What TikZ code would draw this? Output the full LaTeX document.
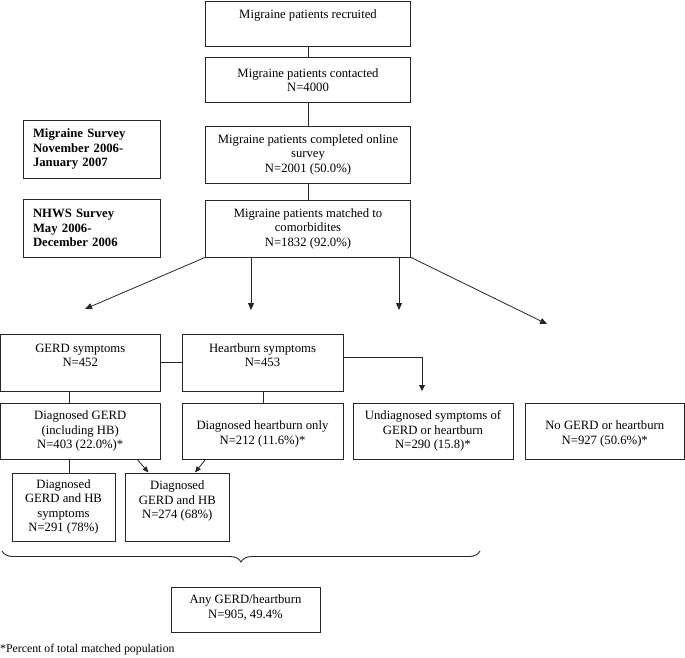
\documentclass[tikz,border=0pt]{standalone}
\usepackage{fontspec}
\setmainfont{Liberation Serif}
\usetikzlibrary{arrows.meta,decorations.pathreplacing}
\begin{document}
\begin{tikzpicture}[x=1pt,y=-1pt,
  box/.style={draw=black!85, line width=0.8pt, rectangle, inner sep=0pt, align=center,
    font=\fontsize{12.7}{14.5}\selectfont},
  lbox/.style={box, align=left, font=\fontsize{12.7}{14.5}\selectfont\bfseries},
  ln/.style={draw=black!85, line width=0.8pt},
  arr/.style={ln, -{Triangle[length=7pt,width=6pt]}},
  sarr/.style={ln, -{Triangle[length=6pt,width=6pt]}}]
\useasboundingbox (0,0) rectangle (685,658);
% main column
\node[box, minimum width=205pt, minimum height=45pt] (b1) at (308,23.5)
  {Migraine patients recruited\\[4pt]\mbox{}};
\node[box, minimum width=205pt, minimum height=45pt] (b2) at (308,80)
  {Migraine patients contacted\\N=4000};
\node[box, minimum width=205pt, minimum height=57pt] (b3) at (308,154.5)
  {Migraine patients completed online\\survey\\N=2001 (50.0\%)};
\node[box, minimum width=205pt, minimum height=57pt] (b4) at (308,228.5)
  {Migraine patients matched to\\comorbidites\\N=1832 (92.0\%)};
% left survey boxes
\node[lbox, minimum width=137pt, minimum height=58pt, text width=117pt] (m1) at (91.5,149)
  {Migraine Survey\\November 2006-\\January 2007};
\node[lbox, minimum width=137pt, minimum height=58pt, text width=117pt] (m2) at (91.5,228)
  {NHWS Survey\\May 2006-\\December 2006};
\draw[ln] (b1.south) -- (b2.north);
\draw[ln] (b2.south) -- (b3.north);
\draw[ln] (b3.south) -- (b4.north);
% arrows from b4
\coordinate (e1) at (85,309);
\coordinate (e2) at (251,310);
\coordinate (e3) at (399,310);
\coordinate (e4) at (547,324);
\draw[arr] (b4.south west) -- (e1);
\draw[arr] (b4.south -| e2) -- (e2);
\draw[arr] (b4.south -| e3) -- (e3);
\draw[arr] (b4.south east) -- (e4);
% symptom row
\node[box, minimum width=159.5pt, minimum height=57pt] (g1) at (80.25,362.5)
  {GERD symptoms\\N=452\\\mbox{}};
\node[box, minimum width=161pt, minimum height=57pt] (h1) at (262.5,362.5)
  {Heartburn symptoms\\N=453\\\mbox{}};
\draw[ln] (g1.east) -- (h1.west);
\coordinate (hc) at (422,357);
% diagnosed row
\node[box, minimum width=159.5pt, minimum height=56pt] (d1) at (80.25,431)
  {Diagnosed GERD\\(including HB)\\N=403 (22.0\%)*};
\node[box, minimum width=161pt, minimum height=56pt] (d2) at (262.5,431)
  {\mbox{}\\Diagnosed heartburn only\\N=212 (11.6\%)*};
\node[box, minimum width=160pt, minimum height=56pt] (u) at (433,431)
  {Undiagnosed symptoms of\\GERD or heartburn\\N=290 (15.8)*};
\node[box, minimum width=159.5pt, minimum height=56pt] (n) at (604.75,431)
  {\mbox{}\\No GERD or heartburn\\N=927 (50.6\%)*};
\draw[ln] (h1.east |- hc) -- (hc);
\draw[sarr] (hc) -- (hc |- 0,391);
\draw[ln] (g1.south -| 69,0) -- (d1.north -| 69,0);
\draw[ln] (h1.south -| 263,0) -- (d2.north -| 263,0);
% bottom boxes
\node[box, minimum width=103pt, minimum height=68pt] (f1) at (63.5,507)
  {Diagnosed\\GERD and HB\\symptoms\\N=291 (78\%)};
\node[box, minimum width=103.3pt, minimum height=68pt] (f2) at (177.3,507)
  {Diagnosed\\GERD and HB\\N=274 (68\%)\\\mbox{}};
\draw[ln] (d1.south -| 69,0) -- (f1.north -| 69,0);
\coordinate (s1) at (137.7,460);
\coordinate (s2) at (205,460);
\draw[ln, -{Triangle[length=6pt,width=5pt]}] (s1) -- (148.5,472.5);
\draw[ln, -{Triangle[length=6pt,width=5pt]}] (s2) -- (195,472.5);
% brace
\coordinate (br1) at (2,551);
\coordinate (br2) at (480,551);
\draw[ln, line width=0.9pt, decorate, decoration={brace, mirror, amplitude=11pt}] (br1) -- (br2);
% total
\node[box, minimum width=149pt, minimum height=45pt] (any) at (245.5,609.5)
  {Any GERD/heartburn\\N=905, 49.4\%\\[-9pt]\mbox{}};
\node[anchor=west, inner sep=0pt, font=\fontsize{11.8}{13}\selectfont] (fn) at (0,650)
  {*Percent of total matched population};
\end{tikzpicture}
\end{document}
